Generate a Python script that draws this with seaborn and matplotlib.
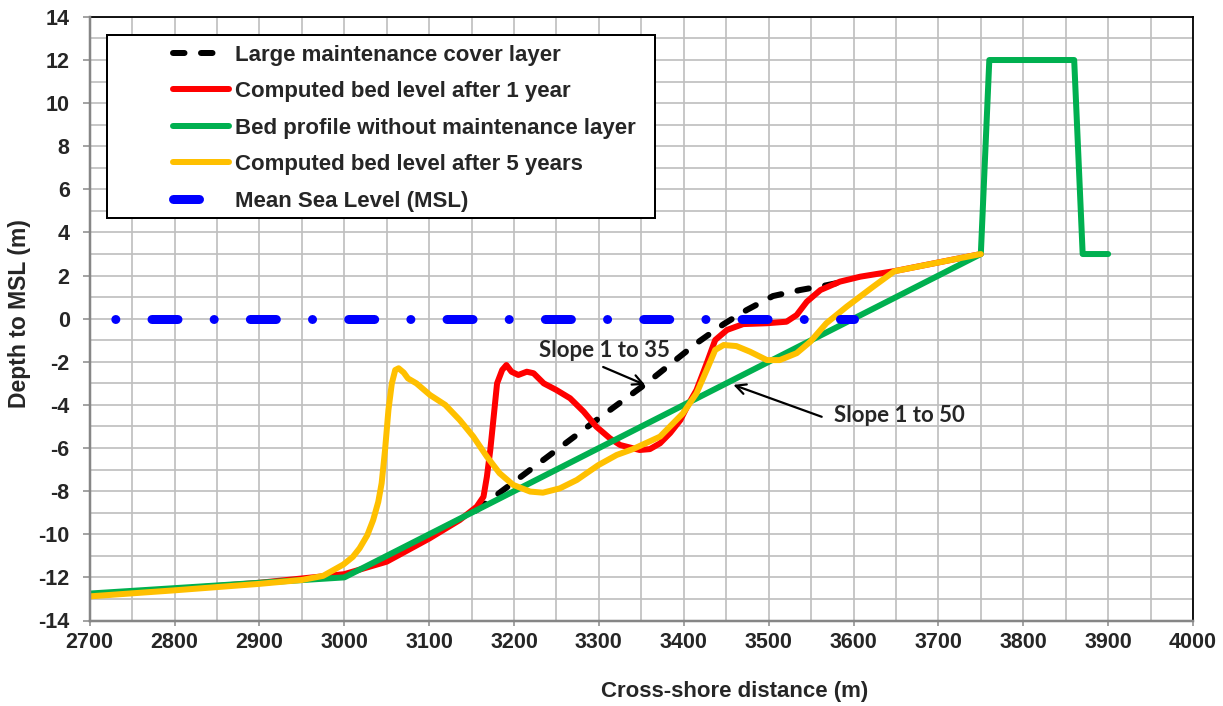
import matplotlib
matplotlib.use("Agg")
import matplotlib.pyplot as plt
from matplotlib.lines import Line2D
from matplotlib.patches import Rectangle
from matplotlib.ticker import MultipleLocator
import pandas as pd
import seaborn as sns

# ---- data -------------------------------------------------------------
cover_x = [3155, 3305, 3356, 3415, 3447, 3474, 3505, 3537, 3568, 3580]
cover_y = [-8.9, -4.47, -3.0, -1.14, -0.25, 0.4, 1.05, 1.33, 1.55, 1.65]

year1_x = [2700, 2800, 2900, 2950, 3000, 3050, 3100, 3136, 3156, 3164, 3168,
           3172, 3176, 3180, 3186, 3191, 3197, 3205, 3215, 3223, 3235, 3250,
           3266, 3282, 3297, 3313, 3325, 3337, 3348, 3360, 3372, 3384, 3396,
           3405, 3415, 3427, 3437, 3451, 3470, 3498, 3521, 3533, 3545, 3561,
           3584, 3608, 3650, 3750]
year1_y = [-12.85, -12.55, -12.25, -12.05, -11.85, -11.27, -10.2, -9.34, -8.72,
           -8.26, -7.33, -6.09, -4.55, -3.0, -2.38, -2.15, -2.46, -2.61, -2.46,
           -2.53, -3.0, -3.31, -3.69, -4.31, -5.01, -5.55, -5.86, -5.98, -6.09,
           -6.05, -5.78, -5.3, -4.7, -4.0, -3.31, -2.07, -0.99, -0.52, -0.25,
           -0.21, -0.14, 0.17, 0.79, 1.33, 1.72, 1.95, 2.22, 3.0]

profile_x = [2700, 3000, 3750, 3760, 3860, 3870, 3900]
profile_y = [-12.75, -12.0, 3.0, 12.0, 12.0, 3.0, 3.0]

year5_x = [2700, 2800, 2900, 2950, 2975, 2999, 3010, 3018, 3027, 3034, 3040,
           3044, 3048, 3052, 3056, 3060, 3064, 3070, 3075, 3085, 3101, 3119,
           3136, 3152, 3168, 3183, 3199, 3219, 3234, 3254, 3274, 3299, 3321,
           3340, 3372, 3399, 3415, 3427, 3437, 3447, 3462, 3478, 3498, 3513,
           3533, 3549, 3568, 3592, 3623, 3648, 3750]
year5_y = [-12.88, -12.6, -12.3, -12.12, -11.93, -11.4, -11.05, -10.65, -10.05,
           -9.34, -8.5, -7.63, -6.09, -4.23, -3.0, -2.38, -2.3, -2.5, -2.77,
           -3.0, -3.54, -4.0, -4.7, -5.47, -6.4, -7.17, -7.71, -8.02, -8.07,
           -7.87, -7.48, -6.8, -6.32, -6.05, -5.47, -4.39, -3.46, -2.38, -1.45,
           -1.22, -1.27, -1.53, -1.92, -1.92, -1.6, -1.07, -0.21, 0.56, 1.48,
           2.2, 3.0]

msl_x = [2700, 3600]
msl_y = [0.0, 0.0]

series_labels = ["Large maintenance cover layer",
                 "Computed bed level after 1 year",
                 "Bed profile without maintenance layer",
                 "Computed bed level after 5 years",
                 "Mean Sea Level (MSL)"]

x_ticks = list(range(2700, 4001, 100))
y_ticks = list(range(-14, 15, 2))

slope_labels = ["Slope 1 to 35", "Slope 1 to 50"]
slope_text_xy = [(3306, -1.47), (3654, -4.50)]
slope_arrow_tail = [(3305, -2.24), (3562.5, -4.55)]
slope_arrow_tip = [(3354.4, -3.07), (3458.4, -3.07)]

# ---- style ------------------------------------------------------------
sns.set_style("white")
plt.rcParams["font.family"] = ["Liberation Sans", "DejaVu Sans"]
plt.rcParams["font.weight"] = "bold"
plt.rcParams["axes.unicode_minus"] = False

DPI = 100
W, H = 1223, 706
fig = plt.figure(figsize=(W / DPI, H / DPI), dpi=DPI)
ax = fig.add_axes([89.7 / W, 1 - 620.5 / H, (1193 - 89.7) / W, (620.5 - 16.9) / H])

PX = 72 / DPI  # points per pixel
LW_PX = 6.0
LW = LW_PX * PX
MSL_PX = 9.0
MSL_LW = MSL_PX * PX

black_dash = (0, (11.5 / LW_PX, 16.5 / LW_PX))
msl_pattern = (26 / MSL_PX, 36.15 / MSL_PX, 0.05 / MSL_PX, 36.15 / MSL_PX)
msl_dash = (36.85 / MSL_PX, msl_pattern)

colors = ["black", "#FF0000", "#00B050", "#FFC000", "#0000FF"]

frames = [
    (pd.DataFrame({"x": cover_x, "y": cover_y}), colors[0], LW, black_dash),
    (pd.DataFrame({"x": year1_x, "y": year1_y}), colors[1], LW, "-"),
    (pd.DataFrame({"x": profile_x, "y": profile_y}), colors[2], LW, "-"),
    (pd.DataFrame({"x": year5_x, "y": year5_y}), colors[3], LW, "-"),
    (pd.DataFrame({"x": msl_x, "y": msl_y}), colors[4], MSL_LW, msl_dash),
]

for i, (df, col, lw, ls) in enumerate(frames):
    sns.lineplot(data=df, x="x", y="y", ax=ax, color=col, linewidth=lw,
                 estimator=None, sort=False, legend=False)
    line = ax.lines[-1]
    line.set_linestyle(ls)
    line.set_solid_capstyle("round")
    line.set_dash_capstyle("round")
    line.set_solid_joinstyle("round")
    line.set_zorder(2 + i * 0.1)

# ---- axes -------------------------------------------------------------
ax.set_xlim(2700, 4000)
ax.set_ylim(-14, 14)
ax.set_xticks(x_ticks)
ax.set_yticks(y_ticks)
ax.xaxis.set_minor_locator(MultipleLocator(50))
ax.yaxis.set_minor_locator(MultipleLocator(1))
ax.grid(which="both", color="#BFBFBF", linewidth=1.7 * PX)
ax.set_axisbelow(True)

for side in ("left", "bottom"):
    ax.spines[side].set_color("#868686")
    ax.spines[side].set_linewidth(2.5 * PX)
    ax.spines[side].set_zorder(3)
for side in ("top", "right"):
    ax.spines[side].set_color("black")
    ax.spines[side].set_linewidth(1.8 * PX)

TICK_FS = 15.5
ax.tick_params(axis="y", which="major", direction="out", length=7 * PX,
               width=1.5 * PX, color="#868686", pad=13 * PX, labelsize=TICK_FS)
ax.tick_params(axis="x", which="major", direction="out", length=5 * PX,
               width=1.5 * PX, color="#868686", pad=7 * PX, labelsize=TICK_FS)
ax.tick_params(which="minor", length=0)
ax.tick_params(bottom=True, left=True)
for lab in ax.get_xticklabels() + ax.get_yticklabels():
    lab.set_fontweight("bold")

ax.set_xlabel("")
ax.set_ylabel("")
fig.text(735 / W, 1 - 692 / H, "Cross-shore distance (m)", ha="center",
         va="center", fontsize=16, fontweight="bold")
fig.text(20 / W, 1 - 314 / H, "Depth to MSL (m)", ha="center", va="center",
         rotation=90, fontsize=16.5, fontweight="bold")

# ---- slope annotations ------------------------------------------------
for lab, txy, tail, tip in zip(slope_labels, slope_text_xy,
                               slope_arrow_tail, slope_arrow_tip):
    ax.text(txy[0], txy[1], lab, ha="center", va="center", fontsize=16,
            fontweight="bold", family=["Lato", "DejaVu Sans"], zorder=6)
    ax.annotate("", xy=tip, xytext=tail,
                arrowprops=dict(arrowstyle="->", color="black", lw=1.6,
                                shrinkA=0, shrinkB=0, mutation_scale=18),
                zorder=6)

# ---- legend -----------------------------------------------------------
box = Rectangle((107 / W, 1 - 218 / H), 548 / W, 183 / H,
                transform=fig.transFigure, facecolor="white",
                edgecolor="black", linewidth=2.0 * PX, zorder=4.5,
                clip_on=False)
ax.add_patch(box)

legend_styles = [black_dash, "-", "-", "-", (0, msl_pattern)]
legend_widths = [LW, LW, LW, LW, MSL_LW]
handles = []
for col, ls, lw in zip(colors, legend_styles, legend_widths):
    h = Line2D([], [], color=col, linewidth=lw, linestyle=ls)
    h.set_dash_capstyle("round")
    h.set_solid_capstyle("round")
    handles.append(h)

FS = 16
fs_px = FS / PX
leg = ax.legend(handles, series_labels, loc="upper left",
                bbox_to_anchor=(173 / W, 1 - 44.5 / H),
                bbox_transform=fig.transFigure, frameon=False, borderpad=0,
                fontsize=FS, handlelength=56 / fs_px,
                handletextpad=6 / fs_px, labelspacing=0.70, borderaxespad=0,
                prop={"weight": "bold", "size": FS})
leg.set_zorder(5)

fig.savefig("out.png", dpi=DPI)
